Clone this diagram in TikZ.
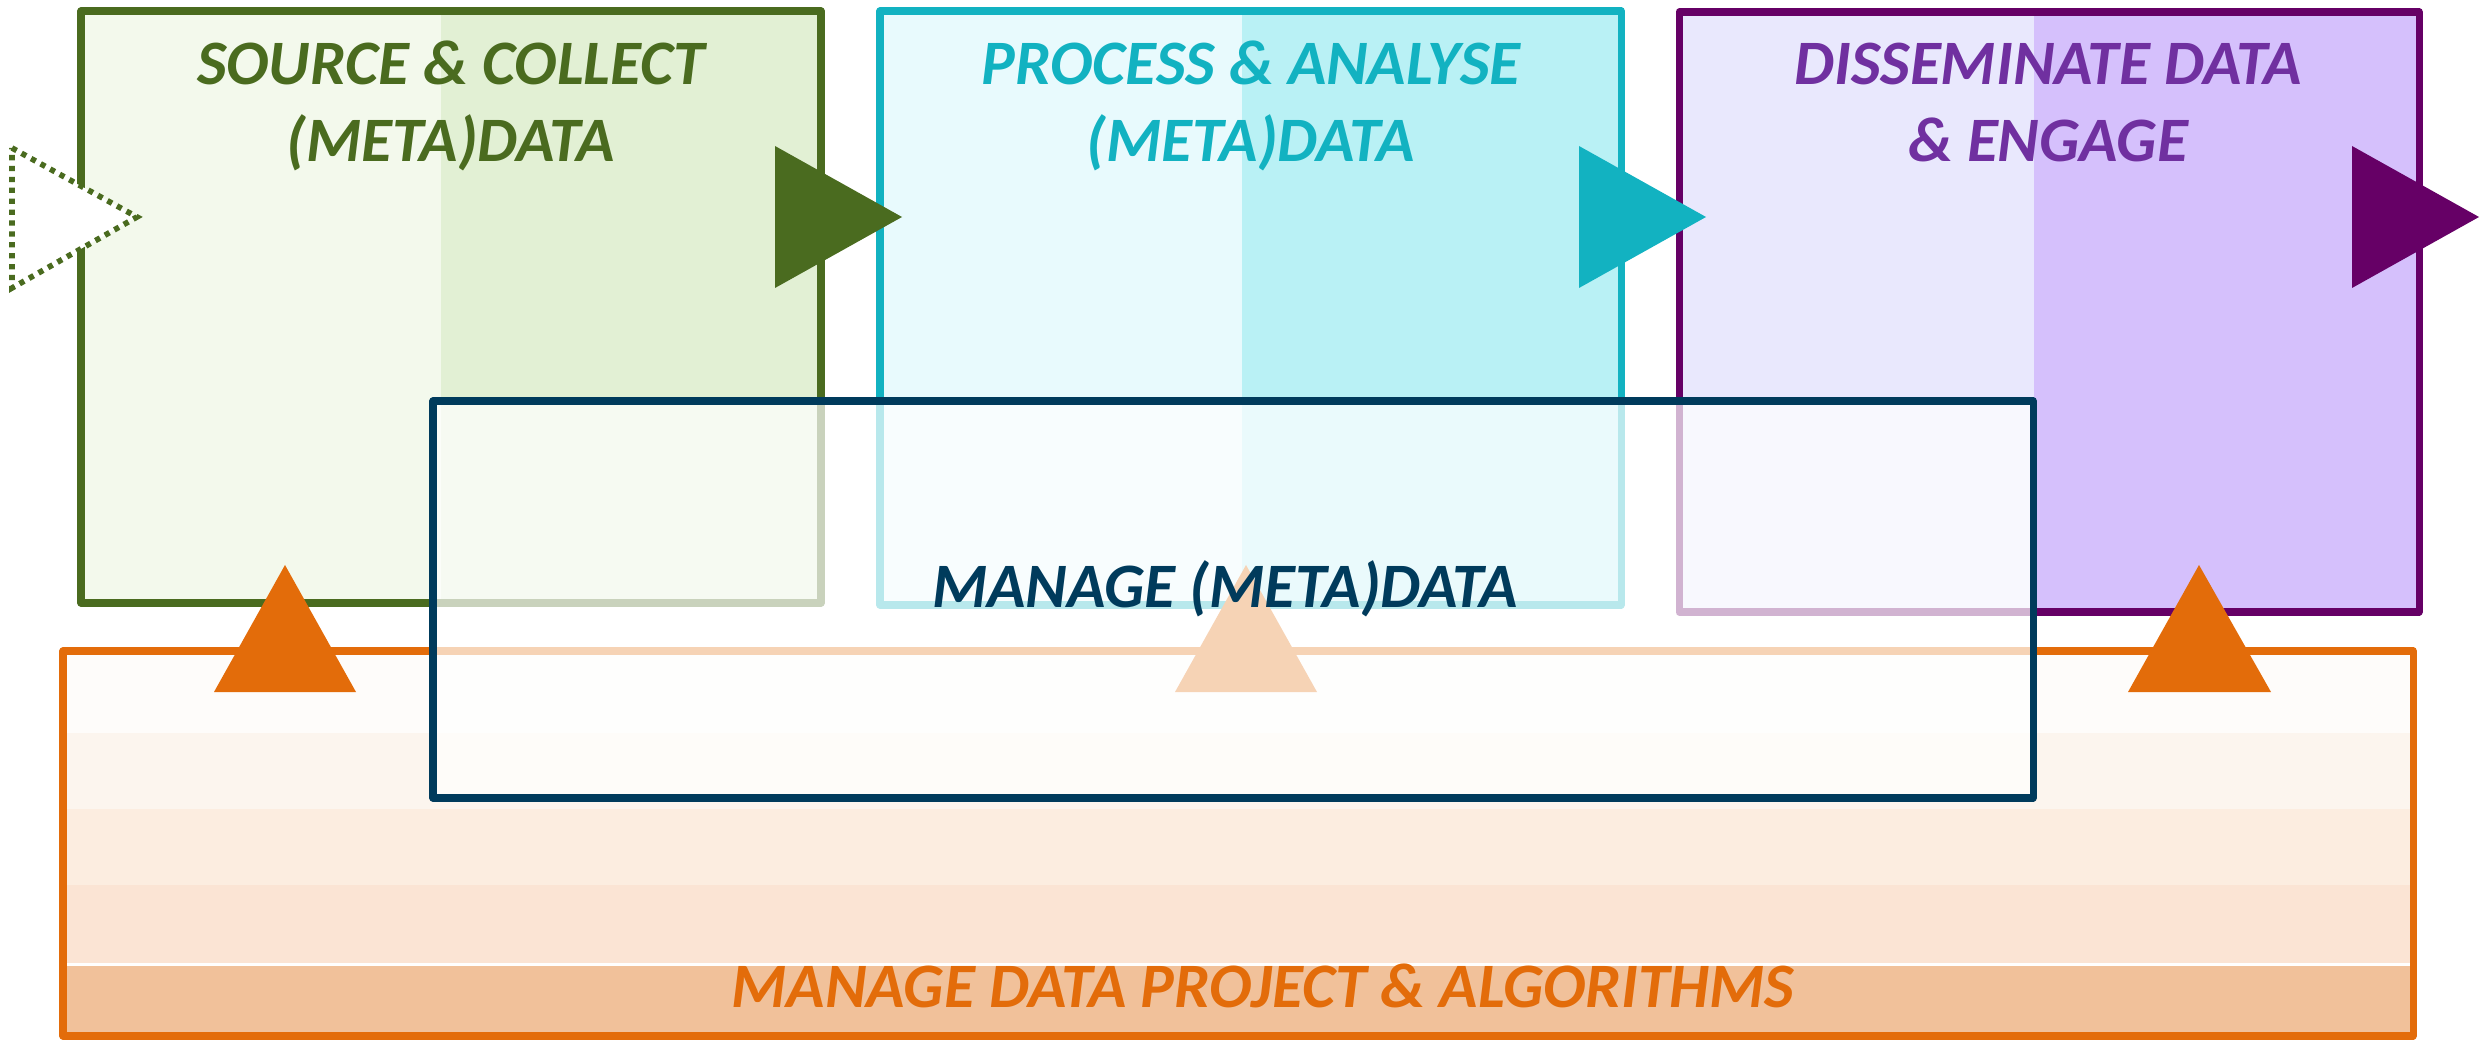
\documentclass[tikz,border=0pt]{standalone}
\usepackage{fontspec}
\setmainfont{Carlito}
\usetikzlibrary{positioning}

\definecolor{srcgreen}{HTML}{4A6B1F}
\definecolor{srcleft}{HTML}{F3F9EC}
\definecolor{srcright}{HTML}{E2F0D4}
\definecolor{procteal}{HTML}{12B2C1}
\definecolor{procleft}{HTML}{E8FAFD}
\definecolor{procright}{HTML}{B9F1F5}
\definecolor{dissplum}{HTML}{660066}
\definecolor{disstext}{HTML}{7030A0}
\definecolor{dissleft}{HTML}{E9E8FD}
\definecolor{dissright}{HTML}{D5C0FC}
\definecolor{mannavy}{HTML}{003B5C}
\definecolor{projorange}{HTML}{E36C0A}
\definecolor{bandA}{HTML}{FEFCFA}
\definecolor{bandB}{HTML}{FCF5EE}
\definecolor{bandC}{HTML}{FCEDE0}
\definecolor{bandD}{HTML}{FBE4D4}
\definecolor{bandE}{HTML}{F1C19A}

\begin{document}
\begin{tikzpicture}[x=0.01cm, y=-0.01cm,
			framebox/.style={line width=2pt, line join=round},
			titlenode/.style={font=\bfseries\itshape\fontsize{18}{21.9}\selectfont, align=center, inner sep=0pt, anchor=base},
			flowtip/.style={line join=miter}
			]
			\useasboundingbox (0,0) rectangle (2481,1040);
			
			\fill[srcleft] (81,11) rectangle (441,603);
			\fill[srcright] (441,11) rectangle (821,603);
			\draw[framebox, draw=srcgreen] (81,11) rectangle (821,603);
			
			\fill[procleft] (880,11) rectangle (1242,605);
			\fill[procright] (1242,11) rectangle (1621,605);
			\draw[framebox, draw=procteal] (880,11) rectangle (1621,605);
			
			\fill[dissleft] (1679,12) rectangle (2034,612);
			\fill[dissright] (2034,12) rectangle (2419,612);
			\draw[framebox, draw=dissplum] (1679,12) rectangle (2419,612);
			
			\draw[flowtip, srcgreen, fill=white, line width=1.6pt, dash pattern=on 1.5pt off 1.6pt] (12,148) -- (137,217) -- (12,288) -- cycle;
			\fill[flowtip, srcgreen] (775,146) -- (902,217) -- (775,288) -- cycle;
			\fill[flowtip, procteal] (1579,146) -- (1706,217) -- (1579,288) -- cycle;
			\fill[flowtip, dissplum] (2352,146) -- (2479,217) -- (2352,288) -- cycle;
			
			\node[titlenode, text=srcgreen] at (451,162) (source) {SOURCE \& COLLECT\\(META)DATA};
			\node[titlenode, text=procteal] at (1251,162) (process) {PROCESS \& ANALYSE\\(META)DATA};
			\node[titlenode, text=disstext] at (2048,162) (disseminate) {DISSEMINATE DATA\\\& ENGAGE};
			
			\fill[bandA] (63,651) rectangle (2413,733);
			\fill[bandB] (63,733) rectangle (2413,809);
			\fill[bandC] (63,809) rectangle (2413,885);
			\fill[bandD] (63,885) rectangle (2413,963);
			\fill[bandE] (63,966) rectangle (2413,1036);
			\draw[framebox, draw=projorange] (63,651) rectangle (2413,1036);
			
			\fill[flowtip, projorange] (214,692) -- (285,565) -- (356,692) -- cycle;
			\fill[flowtip, projorange] (1175,692) -- (1246,565) -- (1317,692) -- cycle;
			\fill[flowtip, projorange] (2128,692) -- (2199,565) -- (2271,692) -- cycle;
			
			\draw[framebox, draw=mannavy, fill=white, fill opacity=0.7, draw opacity=1] (433,401) rectangle (2033,798);
			
			\node[titlenode, text=mannavy] at (1225,607) (manage) {MANAGE (META)DATA};
			\node[titlenode, text=projorange] at (1263,1007) (project) {MANAGE DATA PROJECT \& ALGORITHMS};
		\end{tikzpicture}
\end{document}
